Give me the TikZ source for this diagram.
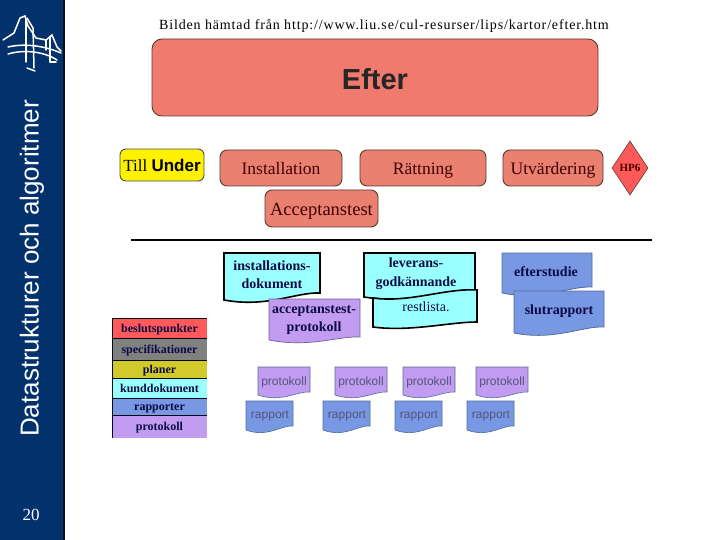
\documentclass[tikz,border=0pt]{standalone}
\usepackage{fontspec}
\setmainfont{Liberation Serif}
\setsansfont{Liberation Sans}
\usetikzlibrary{shapes.geometric}
\definecolor{navy}{HTML}{03316B}
\definecolor{salmon}{HTML}{F07A6E}
\definecolor{boxsalmon}{HTML}{E98070}
\definecolor{cyandoc}{HTML}{99FFFF}
\definecolor{purpledoc}{HTML}{C29CF0}
\definecolor{bluedoc}{HTML}{7898E4}
\definecolor{inkblue}{HTML}{0B0B45}
\definecolor{edgebrown}{HTML}{5C3A30}
\tikzset{
  x=1pt,y=-1pt,
  phase/.style={rounded corners=7pt,draw=edgebrown,line width=0.9pt,fill=boxsalmon,inner sep=0pt,text height=15pt,text depth=1pt,font=\fontsize{17.5}{17.5}\selectfont,text=black!75!red},
  legendrow/.style={inner sep=0pt,text height=9.5pt,text depth=1.5pt,font=\fontsize{12}{12}\selectfont\bfseries,text=inkblue},
  doclabel/.style={align=center,font=\fontsize{14}{18}\selectfont\bfseries,text=inkblue,inner sep=0pt},
  smalllabel/.style={text height=10pt,text depth=0.5pt,font=\sffamily\fontsize{12}{12}\selectfont,text=inkblue!70!white,inner sep=0pt},
  bridge/.style={draw=white,line width=1.5pt,line cap=round},
}
% x1 y1 x2 y2: box; #5 left drop, #6 right drop
\newcommand{\docsheet}[7]{%
  \draw[#7] (#1,#2) -- (#3,#2) -- (#3,#6)
    .. controls ({#3-0.25*(#3-#1)},{#6-1}) and ({#1+0.45*(#3-#1)},{#5+8}) .. (#1,#5) -- cycle;
}
\begin{document}
\begin{tikzpicture}
\useasboundingbox (0,0) rectangle (720,540);
\fill[white] (0,0) rectangle (720,540);
\fill[navy] (0,0) rectangle (63,540);
\fill[black!70!navy] (63,0) rectangle (65,540);
% logo
\draw[bridge] (3,40) -- (14,33) -- (20,18) -- (25,16) -- (28,26) -- (36,38) -- (46,40);
\draw[bridge] (27,18) -- (33,28) -- (34,68);
\draw[bridge] (26,20) -- (26,62);
\draw[bridge] (8,47) .. controls (25,43) and (45,46) .. (61,53);
\draw[bridge] (8,54) .. controls (25,49) and (45,52) .. (57,60);
\draw[bridge] (46,40) -- (52,35) -- (57,47) -- (61,51);
\draw[bridge] (50,37) -- (50,62);
\draw[bridge] (46,40) -- (46,50);
\draw[bridge] (50,62) -- (56,62);
\draw[bridge] (27,68) -- (35,71);
\node[rotate=90,text=white,inner sep=0pt,font=\sffamily\fontsize{26}{26}\selectfont] (sidetitle) at (32,268.5) {Datastrukturer och algoritmer};
\node[text=white,inner sep=0pt,font=\fontsize{17}{17}\selectfont] (pagenum) at (31,515) {20};
\node[inner sep=0pt,font=\fontsize{14}{14}\selectfont\addfontfeature{LetterSpace=6}] (source) at (384,25.5) {Bilden hämtad från http://www.liu.se/cul-resurser/lips/kartor/efter.htm};
% phases
\node[draw=edgebrown,line width=0.9pt,fill=salmon,rounded corners=10pt,minimum width=446pt,minimum height=77pt,inner sep=0pt] (efter) at (375,77.5) {};
\node[inner sep=0pt,font=\sffamily\bfseries\fontsize{29}{29}\selectfont,text=black!85] (efterlabel) at (375,79) {Efter};
\node[draw=black!70,line width=0.9pt,fill=yellow,rounded corners=6pt,minimum width=84pt,minimum height=32pt,inner sep=0pt,text height=14.5pt,text depth=0.5pt] (till) at (162,165) {\fontsize{17}{17}\selectfont Till \sffamily\bfseries Under};
\node[phase,minimum width=122pt,minimum height=36pt] (inst) at (281,168) {Installation};
\node[phase,minimum width=126pt,minimum height=36pt] (ratt) at (423,168) {Rättning};
\node[phase,minimum width=100pt,minimum height=36pt] (utv) at (553,168) {Utvärdering};
\node[phase,minimum width=113pt,minimum height=37pt,font=\fontsize{18.5}{18.5}\selectfont] (acc) at (321.5,208.5) {Acceptanstest};
\node[diamond,aspect=0.67,draw=edgebrown,line width=0.6pt,fill=red!65!white,minimum width=36pt,minimum height=54pt,inner sep=0pt,text=black!70!red,font=\fontsize{11}{11}\selectfont\bfseries] (hp) at (630,168) {HP6};
\draw[line width=1.8pt] (131,240) -- (652,240);
% large documents
\docsheet{224}{253}{320}{253}{300}{293}{fill=cyandoc,draw=black,line width=1.6pt}
\node[doclabel] (installdoc) at (272,275) {installations-\\dokument};
\docsheet{269}{299}{360}{299}{340}{337}{fill=purpledoc,draw=purpledoc!60!black,line width=0.7pt}
\node[doclabel] (acceptdoc) at (314,320.5) {acceptanstest-\\protokoll};
\docsheet{364}{253}{475}{253}{297}{290}{fill=cyandoc,draw=black,line width=1.6pt}
\node[doclabel,font=\fontsize{14}{19}\selectfont\bfseries] (levdoc) at (416,274) {leverans-\\godkännande};
\draw[fill=cyandoc,draw=black,line width=1.6pt] (373,298) .. controls (410,303) and (445,288) .. (477,290) -- (477,322) .. controls (450,322) and (410,332) .. (373,327) -- cycle;
\node[doclabel,font=\fontsize{14}{18}\selectfont] (restdoc) at (426,307) {restlista.};
\docsheet{502}{253}{592}{253}{293}{287}{fill=bluedoc,draw=navy!70,line width=0.8pt}
\node[doclabel] (eftdoc) at (546,272) {efterstudie};
\docsheet{514}{291}{604}{291}{333}{327}{fill=bluedoc,draw=navy!70,line width=0.8pt}
\node[doclabel] (slutdoc) at (559,311) {slutrapport};
% legend
\node[legendrow,fill=red!65!white,minimum width=95pt,minimum height=20pt] (lega) at (159.5,328) {beslutspunkter};
\node[legendrow,fill=black!50,minimum width=95pt,minimum height=22pt] (legb) at (159.5,349) {specifikationer};
\node[legendrow,fill=yellow!80!black,minimum width=95pt,minimum height=18pt] (legc) at (159.5,369) {planer};
\node[legendrow,fill=cyandoc,minimum width=95pt,minimum height=20pt] (legd) at (159.5,388) {kunddokument};
\node[legendrow,fill=bluedoc,minimum width=95pt,minimum height=17pt] (lege) at (159.5,406.5) {rapporter};
\node[legendrow,fill=purpledoc,minimum width=95pt,minimum height=23pt] (legf) at (159.5,426.5) {protokoll};
\foreach \y in {318,338,360,378,398,415}{\draw[black!80!navy,line width=0.7pt] (112,\y) -- (207,\y);}
\draw[black!80!navy,line width=0.7pt] (112,318) -- (112,438);
% small documents
\foreach \xa/\nm in {258/pa,335/pb,403/pc,476/pd}{
  \docsheet{\xa}{367}{\xa+52}{367}{395}{392}{fill=purpledoc,draw=navy!70,line width=0.6pt}
  \node[smalllabel] (\nm) at (\xa+26,381) {protokoll};
}
\foreach \xa/\nm in {246/ra,323/rb,395/rc,467/rd}{
  \docsheet{\xa}{401}{\xa+47}{401}{430}{426}{fill=bluedoc,draw=navy!70,line width=0.6pt}
  \node[smalllabel] (\nm) at (\xa+24,414) {rapport};
}
\end{tikzpicture}
\end{document}
